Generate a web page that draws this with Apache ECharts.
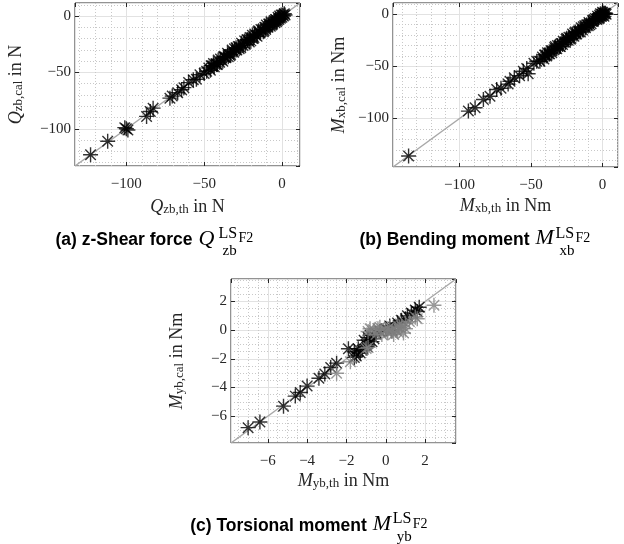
<!DOCTYPE html>
<html><head><meta charset="utf-8">
<script src="https://cdn.jsdelivr.net/npm/echarts@6/dist/echarts.min.js"></script>
<style>html,body{margin:0;padding:0;background:#fff}#c{width:624px;height:544px}</style>
</head><body><div id="c"></div>
<script>
// ---------- data ----------
// (a) z-shear force: theoretical vs calculated (N)
const qzbTh = [-123,-112,-100,-99,-101,-87,-84.6,-82.8,-72,-70.5,-64.5,-63,-57,-55,-52.7,-50,-48.4,-60,-67,
  -47,-46,-45,-44,-43.5,-42,-41,-40,-39.5,-38,-37,-36,-35,-34.5,-33,-32,-31,-30.5,-29,-28,
  -27.5,-26,-25,-24,-23.5,-22,-21,-20.5,-20,-19,-18,-17.5,-16,-15,-14,-13.5,-12,-11,-10.5,-10,
  -9,-8,-7.5,-7,-6,-5,-4.5,-4,-3,-2.5,-2,-1.5,-1,-0.5,0,0.5,1,1.5,2,
  -3.5,-6.5,-8.5,-11.5,-15.5,-18.5,-22.5,-26.5,-29.5,-33.5,-37.5,-41.5,-45.5];
const qzbCal = [-123,-111,-100,-101,-99,-89,-84.6,-81.7,-72.8,-71,-65.4,-63.5,-56.5,-56,-52,-51,-49,-59,-68,
  -46,-48,-44,-42,-45,-43,-39,-41,-38,-40,-36,-37,-33,-36,-34,-30,-32,-29,-30,-27,
  -29,-24,-26,-22,-25,-21,-23,-19,-22,-17,-19,-16,-18,-13,-15,-12,-14,-10,-12,-8,
  -10,-7,-9,-5,-7,-4,-6,-3,-4,-1,-3,0,-2,1,-1,1,0,2,1,
  -5,-8,-7,-13,-14,-20,-21,-28,-28,-35,-36,-43,-44];
// (b) bending moment (Nm)
const mxbTh = [-135.6,-93.8,-89.1,-83.3,-78.7,-74,-71,-64.7,-61.7,-55.4,-52,-53,-43.8,-66,-58,-48,-46,
  -42,-41,-40,-39,-38.5,-37,-36,-35.5,-34,-33,-32,-31.5,-30,-29,-28,-27.5,-26,-25,-24,-23.5,
  -22,-21,-20,-19.5,-18,-17,-16.5,-15,-14,-13.5,-12,-11,-10,-9.5,-8,-7,-6.5,-5,-4,-3.5,
  -2.5,-2,-1,-0.5,0,0.5,1,1.5,-3,-6,-9,-12.5,-15.5,-19,-22.5,-25.5,-29.5,-33.5,-37.5,-40.5,
  2,-1.5,1,0,2.5];
const mxbCal = [-136,-92.9,-89.7,-81.7,-78.6,-72.2,-71,-64.2,-61,-54.6,-57,-52,-45,-67,-59,-47,-45,
  -41,-43,-39,-40,-37,-38,-35,-37,-34,-31,-33,-30,-31,-28,-29,-26,-27,-23,-25,-22,
  -23,-19,-21,-18,-19,-16,-17,-13,-15,-12,-13,-10,-11,-8,-9,-6,-7,-4,-5,-2,
  -3,-1,-2,0,-1,1,0,1,-4,-5,-10,-11,-17,-17,-24,-24,-31,-32,-38,-39,
  1,0.5,-2,2,0];
// (c) torsional moment (Nm): black and grey groups
const mybThBlack = [-7.0,-6.4,-5.2,-4.6,-4.35,-4.0,-3.4,-3.1,-2.8,-2.5,-1.9,-1.6,-1.5,-1.4,-1.3,-1.6,-1.2,-1.0,
  -0.95,-0.8,-0.7,-0.6,-0.5,-0.3,0,0.2,0.4,0.6,0.8,1.0,1.1,1.3,1.5,1.7,1.6,-0.9,-1.1,0.3];
const mybCalBlack = [-6.8,-6.4,-5.3,-4.6,-4.35,-3.9,-3.35,-3.05,-2.6,-2.3,-1.3,-1.5,-1.8,-1.3,-1.6,-1.9,-1.4,-1.0,
  -1.15,-0.35,-0.8,-0.6,-0.2,-0.1,0.1,0.3,0.2,0.5,0.7,0.8,1.0,1.2,1.4,1.6,1.3,-0.5,-0.7,0.0];
const mybThGray = [2.45,1.5,1.6,1.0,0.9,1.0,0.7,0.5,0.3,0.1,0.0,-0.2,-0.4,-0.6,-0.8,-0.9,-0.5,0.2,0.4,0.6,
  -0.9,-1.8,-2.5,0.8,0.1,-0.3,1.2,-1.0,0.6];
const mybCalGray = [1.74,0.92,0.8,0.5,-0.2,0.1,0.2,0.0,-0.1,-0.2,0.0,-0.3,0.1,0.0,0.1,-0.1,-0.3,0.2,-0.3,-0.1,
  -1.2,-2.2,-3.0,0.3,0.1,0.2,0.6,-1.27,0.3];
// axis limits and tick steps
const rangeA = [-133, 11.6], rangeB = [-146.5, 10.8], rangeC = [-7.87, 3.57];
const tickStepA = 50, tickStepB = 50, tickStepC = 2;
const minorSplitA = 5, minorSplitB = 5, minorSplitC = 4;

// ---------- helpers ----------
const SERIF = 'Liberation Serif', SANS = 'Liberation Sans';
const TXT = '#262626';
const zip = (a, b) => a.map((v, i) => [v, b[i]]);
const fmt = v => String(v).replace('-', '\u2212');
const STAR = 'path://M0,-10L0,10M-10,0L10,0M-7,-7L7,7M-7,7L7,-7';

function nameStyle() {
  return {
    color: TXT,
    rich: {
      v: {fontFamily: SERIF, fontStyle: 'italic', fontSize: 18, lineHeight: 20, verticalAlign: 'bottom', color: TXT},
      s: {fontFamily: SERIF, fontSize: 13, lineHeight: 7, verticalAlign: 'bottom', color: TXT},
      u: {fontFamily: SERIF, fontSize: 18, lineHeight: 20, verticalAlign: 'bottom', color: TXT}
    }
  };
}
function axisPair(gi, range, step, minor, name, gap, isX) {
  const main = {
    gridIndex: gi, type: 'value', min: range[0], max: range[1],
    minInterval: step, maxInterval: step, splitNumber: 3,
    axisLine: {show: false, onZero: false},
    axisTick: {show: true, inside: true, length: 4, lineStyle: {color: TXT}},
    axisLabel: {showMinLabel: false, showMaxLabel: false, margin: isX ? 11 : 4, color: TXT,
      fontFamily: SERIF, fontSize: 15, formatter: fmt},
    splitLine: {show: true, lineStyle: {color: '#e2e2e2', width: 1}},
    minorTick: {show: false, splitNumber: minor},
    minorSplitLine: {show: true, lineStyle: {color: '#c8c8c8', type: [1, 2], width: 1}},
    name: name, nameLocation: 'middle', nameGap: gap, nameTextStyle: nameStyle(),
    position: isX ? 'bottom' : 'left'
  };
  const mirror = {
    gridIndex: gi, type: 'value', min: range[0], max: range[1],
    minInterval: step, maxInterval: step, splitNumber: 3,
    position: isX ? 'top' : 'right',
    axisLine: {show: false, onZero: false},
    axisTick: {show: true, inside: true, length: 4, lineStyle: {color: TXT}},
    axisLabel: {show: false}, splitLine: {show: false}
  };
  return [main, mirror];
}
const gridBase = {show: true, borderColor: TXT, borderWidth: 1, backgroundColor: 'transparent', containLabel: false};

const xAxes = [
  ...axisPair(0, rangeA, tickStepA, minorSplitA, '{v|Q}{s|zb,th}{u| in N}', 30, true),
  ...axisPair(1, rangeB, tickStepB, minorSplitB, '{v|M}{s|xb,th}{u| in Nm}', 28, true),
  ...axisPair(2, rangeC, tickStepC, minorSplitC, '{v|M}{s|yb,th}{u| in Nm}', 27.5, true)
];
const yAxes = [
  ...axisPair(0, rangeA, tickStepA, minorSplitA, '{v|Q}{s|zb,cal}{u| in N}', 50, false),
  ...axisPair(1, rangeB, tickStepB, minorSplitB, '{v|M}{s|xb,cal}{u| in Nm}', 45, false),
  ...axisPair(2, rangeC, tickStepC, minorSplitC, '{v|M}{s|yb,cal}{u| in Nm}', 45, false)
];

function diag(ai, range) {
  return {type: 'line', xAxisIndex: ai, yAxisIndex: ai, data: [[range[0], range[0]], [range[1], range[1]]],
    symbol: 'none', silent: true, z: 1, lineStyle: {color: '#a8a8a8', width: 1.5}};
}
function stars(ai, xs, ys, col) {
  return {type: 'scatter', xAxisIndex: ai, yAxisIndex: ai, data: zip(xs, ys), symbol: STAR, symbolSize: 15,
    silent: true, z: 3, itemStyle: {color: 'rgba(0,0,0,0)', borderColor: col, borderWidth: 1.4}};
}

// caption pieces (centered group: bold label + math symbol with stacked super/subscript)
const CAP_SIZE = 17.5;
const measureCtx = document.createElement('canvas').getContext('2d');
function textWidth(text, font) { measureCtx.font = font; return measureCtx.measureText(text).width; }
function cap(x, y, text, size, opts) {
  return {type: 'text', silent: true, style: Object.assign({
    text: text, x: x, y: y - 0.34 * size, fontSize: size, fontFamily: SERIF, fill: '#000',
    align: 'left', verticalAlign: 'middle'}, opts || {})};
}
function caption(center, base, label, sym, sub) {
  const w = textWidth(label, 'bold ' + CAP_SIZE + 'px "' + SANS + '"');
  const gap = 6, mathW = 58;
  const x = center - (w + gap + mathW) / 2;
  const mx = x + w + gap;
  return [
    cap(x, base, label, CAP_SIZE, {fontFamily: SANS, fontWeight: 'bold'}),
    cap(mx, base, sym, 22, {fontStyle: 'italic'}),
    cap(mx + 20, base - 7, 'LS', 16),
    cap(mx + 40, base - 3, 'F2', 14),
    cap(mx + 24, base + 10, sub, 15)
  ];
}

const chart = echarts.init(document.getElementById('c'), null, {renderer: 'canvas'});
chart.setOption({
  animation: false,
  backgroundColor: '#fff',
  grid: [
    Object.assign({left: 75, top: 3, width: 225, height: 163}, gridBase),
    Object.assign({left: 393, top: 3, width: 225, height: 164}, gridBase),
    Object.assign({left: 231, top: 279, width: 225, height: 164}, gridBase)
  ],
  xAxis: xAxes,
  yAxis: yAxes,
  series: [
    diag(0, rangeA), stars(0, qzbTh, qzbCal, '#000'),
    diag(2, rangeB), stars(2, mxbTh, mxbCal, '#000'),
    diag(4, rangeC), stars(4, mybThBlack, mybCalBlack, '#000'), stars(4, mybThGray, mybCalGray, '#808080')
  ],
  graphic: [
    ...caption(156, 246.5, '(a) z-Shear force', 'Q', 'zb'),
    ...caption(476.5, 246, '(b) Bending moment', 'M', 'xb'),
    ...caption(310.5, 531.7, '(c) Torsional moment', 'M', 'yb')
  ]
});
</script></body></html>
